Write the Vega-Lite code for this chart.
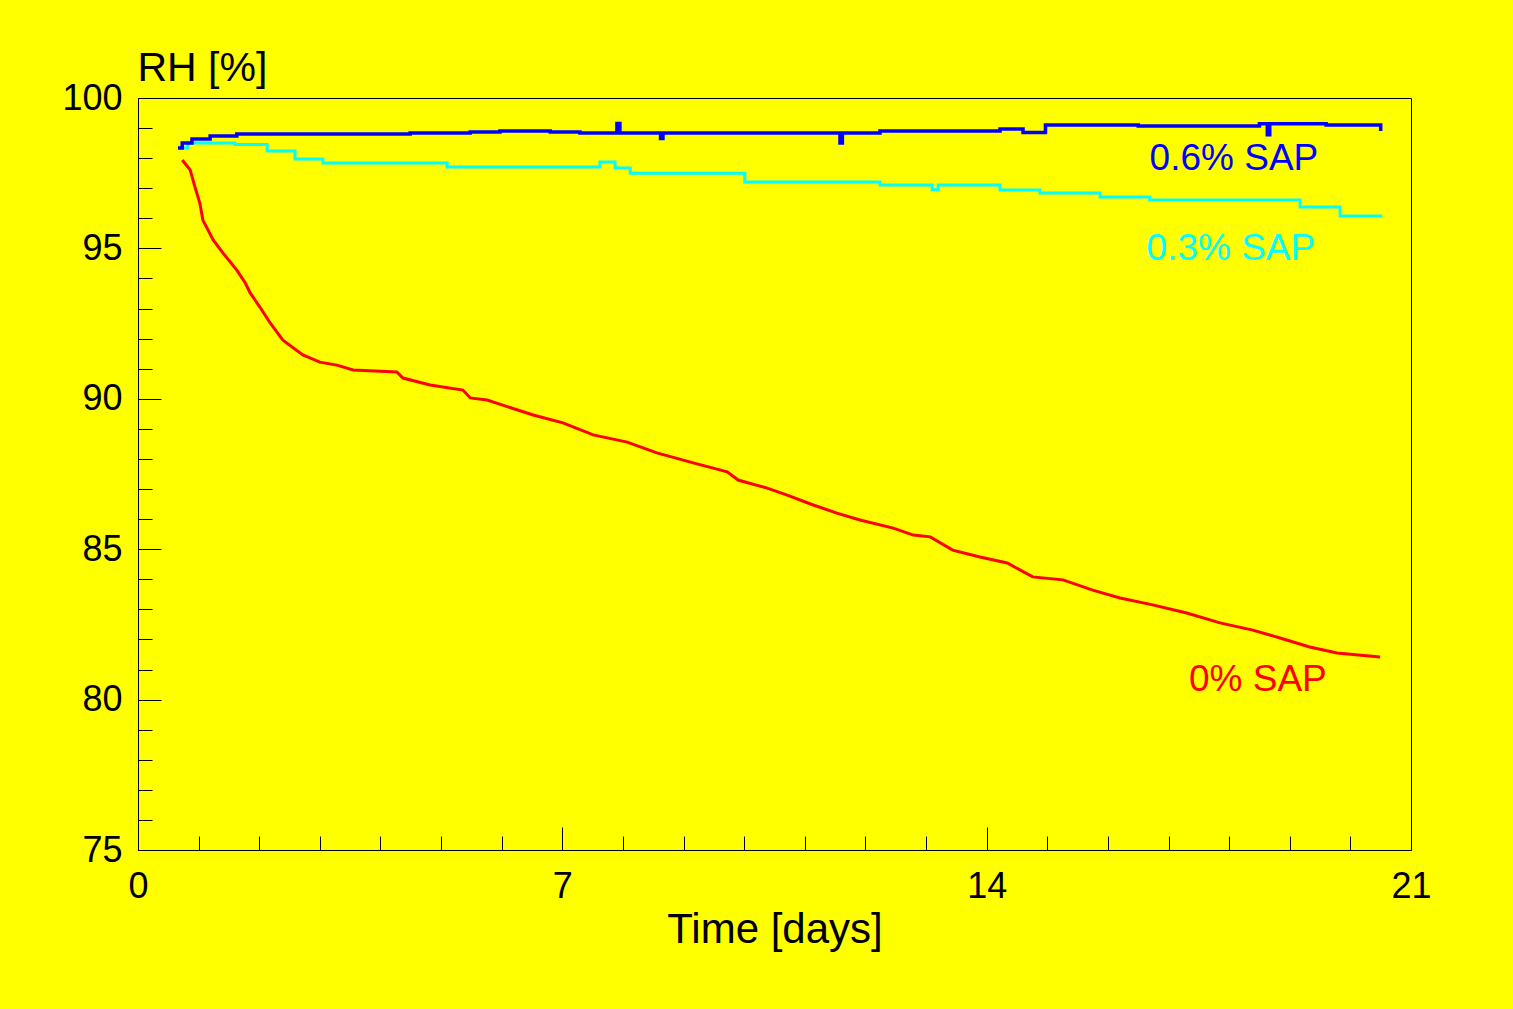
{
  "$schema": "https://vega.github.io/schema/vega-lite/v6.json",
  "autosize": "none",
  "width": 1273,
  "height": 752,
  "padding": {"left": 138, "top": 98, "right": 102, "bottom": 159},
  "background": "#ffff00",
  "config": {
    "view": {"stroke": "#000000", "strokeWidth": 1},
    "font": "Liberation Sans"
  },
  "datasets": {
    "red": [
      {"t": 0.73, "v": 97.94}, {"t": 0.86, "v": 97.61}, {"t": 0.94, "v": 97.04}, {"t": 1.02, "v": 96.51},
      {"t": 1.07, "v": 95.94}, {"t": 1.24, "v": 95.28}, {"t": 1.40, "v": 94.85}, {"t": 1.63, "v": 94.28},
      {"t": 1.77, "v": 93.85}, {"t": 1.85, "v": 93.52}, {"t": 2.01, "v": 93.05}, {"t": 2.18, "v": 92.52},
      {"t": 2.39, "v": 91.95}, {"t": 2.72, "v": 91.46}, {"t": 3.00, "v": 91.22}, {"t": 3.28, "v": 91.12},
      {"t": 3.55, "v": 90.96}, {"t": 4.27, "v": 90.89}, {"t": 4.37, "v": 90.69}, {"t": 4.82, "v": 90.46},
      {"t": 5.36, "v": 90.29}, {"t": 5.48, "v": 90.03}, {"t": 5.76, "v": 89.96}, {"t": 6.52, "v": 89.46},
      {"t": 7.01, "v": 89.20}, {"t": 7.51, "v": 88.80}, {"t": 8.07, "v": 88.56}, {"t": 8.56, "v": 88.20},
      {"t": 9.16, "v": 87.87}, {"t": 9.72, "v": 87.57}, {"t": 9.90, "v": 87.30}, {"t": 10.38, "v": 87.03},
      {"t": 10.71, "v": 86.80}, {"t": 11.14, "v": 86.47}, {"t": 11.53, "v": 86.20}, {"t": 11.91, "v": 85.97},
      {"t": 12.46, "v": 85.70}, {"t": 12.79, "v": 85.47}, {"t": 13.07, "v": 85.41}, {"t": 13.44, "v": 84.97},
      {"t": 13.89, "v": 84.74}, {"t": 14.34, "v": 84.54}, {"t": 14.76, "v": 84.08}, {"t": 15.26, "v": 83.98},
      {"t": 15.75, "v": 83.64}, {"t": 16.20, "v": 83.38}, {"t": 16.74, "v": 83.15}, {"t": 17.30, "v": 82.88},
      {"t": 17.85, "v": 82.55}, {"t": 18.39, "v": 82.31}, {"t": 18.84, "v": 82.05}, {"t": 19.33, "v": 81.75},
      {"t": 19.78, "v": 81.55}, {"t": 20.49, "v": 81.42}
    ],
    "cyan": [
      {"t": 0.66, "v": 98.34}, {"t": 0.82, "v": 98.50}, {"t": 1.60, "v": 98.45}, {"t": 2.13, "v": 98.24},
      {"t": 2.59, "v": 97.97}, {"t": 3.05, "v": 97.84}, {"t": 5.10, "v": 97.71}, {"t": 7.62, "v": 97.87},
      {"t": 7.87, "v": 97.67}, {"t": 8.12, "v": 97.50}, {"t": 10.01, "v": 97.21}, {"t": 12.24, "v": 97.11},
      {"t": 13.10, "v": 96.95}, {"t": 13.20, "v": 97.11}, {"t": 14.22, "v": 96.94}, {"t": 14.88, "v": 96.84},
      {"t": 15.87, "v": 96.71}, {"t": 16.69, "v": 96.61}, {"t": 19.17, "v": 96.38}, {"t": 19.83, "v": 96.08},
      {"t": 20.50, "v": 96.02}
    ],
    "blue": [
      {"t": 0.66, "v": 98.34}, {"t": 0.73, "v": 98.50}, {"t": 0.89, "v": 98.64}, {"t": 1.19, "v": 98.74},
      {"t": 1.63, "v": 98.80}, {"t": 4.49, "v": 98.84}, {"t": 5.48, "v": 98.87}, {"t": 5.97, "v": 98.90},
      {"t": 6.80, "v": 98.87}, {"t": 7.29, "v": 98.84}, {"t": 7.90, "v": 99.15}, {"t": 7.95, "v": 98.84},
      {"t": 8.62, "v": 98.65}, {"t": 8.66, "v": 98.84}, {"t": 11.58, "v": 98.50}, {"t": 11.62, "v": 98.84},
      {"t": 12.24, "v": 98.90}, {"t": 14.22, "v": 98.97}, {"t": 14.60, "v": 98.85}, {"t": 14.97, "v": 99.10},
      {"t": 16.50, "v": 99.07}, {"t": 18.50, "v": 99.14}, {"t": 18.63, "v": 98.78}, {"t": 18.67, "v": 99.14},
      {"t": 19.60, "v": 99.10}, {"t": 20.45, "v": 99.10}, {"t": 20.50, "v": 98.90}
    ],
    "labels": [
      {"t": 19.47, "v": 97.61, "label": "0.6% SAP", "series": "0.6% SAP"},
      {"t": 19.42, "v": 94.61, "label": "0.3% SAP", "series": "0.3% SAP"},
      {"t": 19.61, "v": 80.29, "label": "0% SAP", "series": "0% SAP"}
    ]
  },
  "encoding": {
    "x": {
      "field": "t",
      "type": "quantitative",
      "scale": {"domain": [0, 21], "nice": false, "zero": false},
      "axis": {
        "values": [0,1,2,3,4,5,6,7,8,9,10,11,12,13,14,15,16,17,18,19,20,21],
        "labelExpr": "datum.value % 7 === 0 ? datum.label : ''",
        "tickSize": {"condition": {"test": "datum.value % 7 === 0", "value": -23}, "value": -14},
        "tickColor": "#000000",
        "domainColor": "#000000",
        "grid": false,
        "labelFontSize": 36,
        "labelColor": "#000000",
        "labelPadding": 42,
        "labelFlush": false,
        "labelOverlap": false,
        "title": "Time [days]",
        "titleFontSize": 42,
        "titleFontWeight": "normal",
        "titleColor": "#000000",
        "titleBaseline": "alphabetic",
        "titleY": 92
      }
    },
    "y": {
      "field": "v",
      "type": "quantitative",
      "scale": {"domain": [75, 100], "nice": false, "zero": false},
      "axis": {
        "values": [75,76,77,78,79,80,81,82,83,84,85,86,87,88,89,90,91,92,93,94,95,96,97,98,99,100],
        "labelExpr": "datum.value % 5 === 0 ? datum.label : ''",
        "tickSize": {"condition": {"test": "datum.value % 5 === 0", "value": -23}, "value": -14},
        "tickColor": "#000000",
        "domainColor": "#000000",
        "grid": false,
        "labelFontSize": 36,
        "labelColor": "#000000",
        "labelPadding": 39,
        "labelFlush": false,
        "labelOverlap": false,
        "title": "RH [%]",
        "titleFontSize": 41,
        "titleFontWeight": "normal",
        "titleColor": "#000000",
        "titleAngle": 0,
        "titleAlign": "left",
        "titleBaseline": "alphabetic",
        "titleX": -1,
        "titleY": -18
      }
    }
  },
  "layer": [
    {
      "data": {"name": "red"},
      "mark": {"type": "line", "color": "#ff0000", "strokeWidth": 3, "interpolate": "linear"}
    },
    {
      "data": {"name": "cyan"},
      "mark": {"type": "line", "color": "#00ffff", "strokeWidth": 3, "interpolate": "step-after"}
    },
    {
      "data": {"name": "blue"},
      "mark": {"type": "line", "color": "#0000ff", "strokeWidth": 3.5, "interpolate": "step-after"}
    },
    {
      "data": {"name": "labels"},
      "mark": {"type": "text", "align": "right", "baseline": "alphabetic", "fontSize": 37, "font": "Liberation Sans"},
      "encoding": {
        "text": {"field": "label"},
        "color": {
          "field": "series",
          "type": "nominal",
          "scale": {"domain": ["0% SAP", "0.3% SAP", "0.6% SAP"], "range": ["#ff0000", "#00ffff", "#0000ff"]},
          "legend": null
        }
      }
    }
  ]
}
